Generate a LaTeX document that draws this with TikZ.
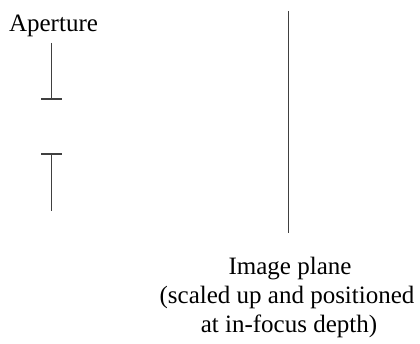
\documentclass[tikz,border=0pt]{standalone}
\usepackage{fontspec}
\setmainfont{Liberation Serif}
\begin{document}
\begin{tikzpicture}[x=1pt,y=-1pt,
  stroke/.style={line width=1.3pt,draw=black!75},
  lbl/.style={font=\fontsize{25}{28.5}\selectfont,inner sep=0pt,anchor=base}]
\useasboundingbox (0,0) rectangle (420,344);
\node[lbl] (ap) at (53.5,31.5) {Aperture};
\coordinate (a1) at (51.5,43);
\coordinate (a2) at (51.5,99);
\coordinate (t1l) at (41,99);
\coordinate (t1r) at (62,99);
\coordinate (t2l) at (41,154);
\coordinate (t2r) at (62,154);
\coordinate (b1) at (51.5,154);
\coordinate (b2) at (51.5,211);
\coordinate (p1) at (288.5,11);
\coordinate (p2) at (288.5,233);
\draw[stroke] (a1) -- (a2);
\draw[stroke] (t1l) -- (t1r);
\draw[stroke] (t2l) -- (t2r);
\draw[stroke] (b1) -- (b2);
\draw[stroke] (p1) -- (p2);
\node[lbl] (l1) at (290,275) {Image plane};
\node[lbl] (l2) at (287,303.5) {(scaled up and positioned};
\node[lbl] (l3) at (289,332) {at in-focus depth)};
\end{tikzpicture}
\end{document}
